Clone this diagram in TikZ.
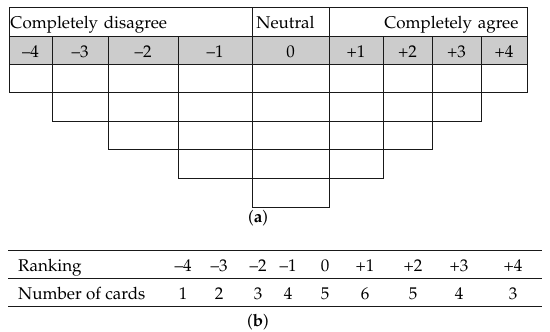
\documentclass[tikz,border=0pt]{standalone}
\usepackage[T1]{fontenc}
\usepackage{mathpazo}
\usepackage{xcolor}
\definecolor{shade}{RGB}{204,204,204}
\definecolor{ink}{RGB}{25,25,25}
\usetikzlibrary{positioning}

\begin{document}
\begin{tikzpicture}[x=1pt,y=-1pt,
  every node/.style={font=\fontsize{17}{20}\selectfont,inner sep=0pt,
                     text height=14.5pt,text depth=0pt},
  box/.style={draw=ink,line width=0.9pt},
  head/.style={box,minimum height=29pt,anchor=west},
  score/.style={box,fill=shade,minimum height=28pt},
  slot/.style={box,minimum height=28.6pt},
  lbl/.style={anchor=base,text height=,text depth=},
  rulebk/.style={draw=ink,line width=0.8pt},
]
  \useasboundingbox (0,0) rectangle (550,332);

  % (a) header
  \node[head,minimum width=243pt,inner xsep=1pt,text width=241pt,align=left]
    (dis) at (9,21.5) {Completely disagree};
  \node[head,minimum width=77pt,inner xsep=4pt,text width=69pt,align=left]
    (neu) at (252,21.5) {Neutral};
  \node[head,minimum width=198pt,inner xsep=9pt,text width=180pt,align=right]
    (agr) at (329,21.5) {Completely agree};

  % (a) scores and card slots
  \foreach \l/\r/\t/\n [count=\i] in {9/52/--4/1,52/108/--3/2,108/178/--2/3,
      178/252/--1/4,252/329/0/5,329/383/+1/4,383/432/+2/3,432/481/+3/2,481/527/+4/1}{
    \node[score,minimum width={(\r-\l)*1pt}] (s\i) at ({(\l+\r)/2},50) {\t};
    \foreach \k in {1,...,\n}
      \node[slot,minimum width={(\r-\l)*1pt}] (c\i-\k) at ({(\l+\r)/2},{64+28.6*(\k-0.5)}) {};
  }
  \node[lbl] (capa) at (258,222) {(\textbf{a})};

  % (b) table
  \draw[rulebk] (8,250) -- (542,250);
  \draw[rulebk] (8,278) -- (542,278);
  \draw[rulebk] (8,306) -- (542,306);
  \node[lbl,anchor=base west] (rank) at (18,271) {Ranking};
  \node[lbl,anchor=base west] (num) at (18,299) {Number of cards};
  \foreach \x/\r/\c [count=\i] in {183/--4/1,219/--3/2,258/--2/3,288/--1/4,
      325/0/5,365/+1/6,413/+2/5,459/+3/4,513/+4/3}{
    \node[lbl] (r\i) at (\x,271) {\r};
    \node[lbl] (n\i) at (\x,299) {\c};
  }
  \node[lbl] (capb) at (258,326) {(\textbf{b})};
\end{tikzpicture}
\end{document}
